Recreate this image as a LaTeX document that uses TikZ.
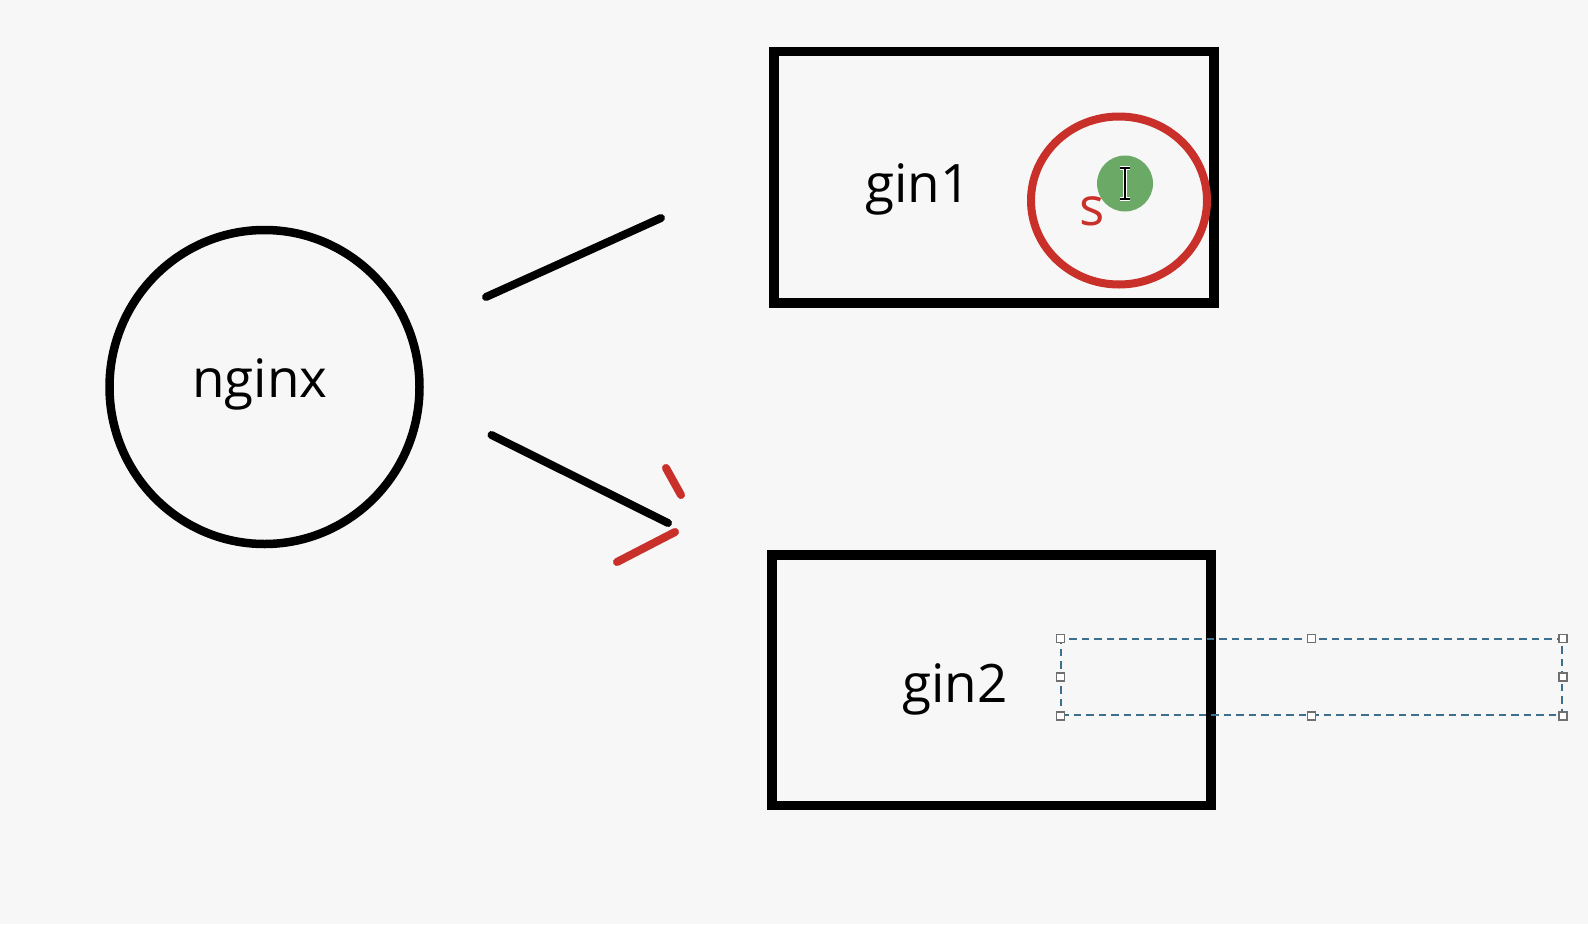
\documentclass[tikz,border=0pt]{standalone}
\usepackage{fontspec}
\setmainfont{Open Sans}
\usetikzlibrary{shapes.geometric}
\definecolor{bgc}{HTML}{F7F7F8}
\definecolor{redc}{HTML}{C9302A}
\definecolor{greenc}{HTML}{6BAA66}
\definecolor{selc}{HTML}{3D6F8E}
\definecolor{handc}{HTML}{707070}
\tikzset{
  lbl/.style={font=\fontsize{53}{58}\selectfont, anchor=base, inner sep=0pt},
  boxn/.style={draw=black, line width=9.5pt, rectangle, inner sep=0pt},
  conn/.style={draw=black, line width=8pt, line cap=round},
  redstroke/.style={draw=redc, line width=8pt, line cap=round},
  handle/.style={draw=handc, fill=white, line width=1.5pt, rectangle, minimum size=8pt, inner sep=0pt},
}
\begin{document}
\begin{tikzpicture}[x=1pt,y=-1pt]
\fill[bgc] (0,0) rectangle (1588,924);
\useasboundingbox (0,0) rectangle (1588,924);

% nginx circle
\node[draw=black, line width=8.5pt, ellipse, minimum width=310pt, minimum height=314pt, inner sep=0pt] (nginxc) at (264.5,387) {};
\node[lbl] (nginx) at (260,397) {nginx};

% gin1 box
\node[boxn, minimum width=440pt, minimum height=251.5pt] (gin1box) at (994,177.25) {};
\node[lbl] (gin1) at (918,202) {gin1};

% gin2 box
\node[boxn, minimum width=439pt, minimum height=250.7pt] (gin2box) at (991.5,680.35) {};
\node[lbl] (gin2) at (955,702) {gin2};

% connectors
\coordinate (a1) at (486,297);
\coordinate (a2) at (661,218);
\coordinate (b1) at (491.5,435);
\coordinate (b2) at (668,523);
\draw[conn] (a1) -- (a2);
\draw[conn] (b1) -- (b2);

% red arrow strokes
\coordinate (r1) at (666,468);
\coordinate (r2) at (681,495);
\coordinate (r3) at (675,532);
\coordinate (r4) at (617,562);
\draw[redstroke] (r1) -- (r2);
\draw[redstroke] (r3) -- (r4);

% red circle annotation
\node[draw=redc, line width=8pt, ellipse, minimum width=176pt, minimum height=168pt, inner sep=0pt] (redc1) at (1119,200.5) {};
\node[lbl, text=redc] (s) at (1092,225) {s};

% green cursor dot
\node[circle, fill=greenc, minimum size=56pt, inner sep=0pt] (dot) at (1125,183.5) {};
\coordinate (ib1) at (1125,168);
\coordinate (ib2) at (1125,199);
\draw[white, line width=3.2pt] (1120,168) -- (1130,168) (ib1) -- (ib2) (1120,199) -- (1130,199);
\draw[black, line width=1.3pt] (1120,168) -- (1130,168) (ib1) -- (ib2) (1120,199) -- (1130,199);

% selection box
\node[draw=selc, dashed, dash pattern=on 7.5pt off 5pt, line width=1.5pt, rectangle, minimum width=501pt, minimum height=76pt, inner sep=0pt] (sel) at (1311.5,677) {};
\foreach \a in {north west,north,north east,west,east,south west,south,south east}
  \node[handle] at (sel.\a) {};
\end{tikzpicture}
\end{document}
